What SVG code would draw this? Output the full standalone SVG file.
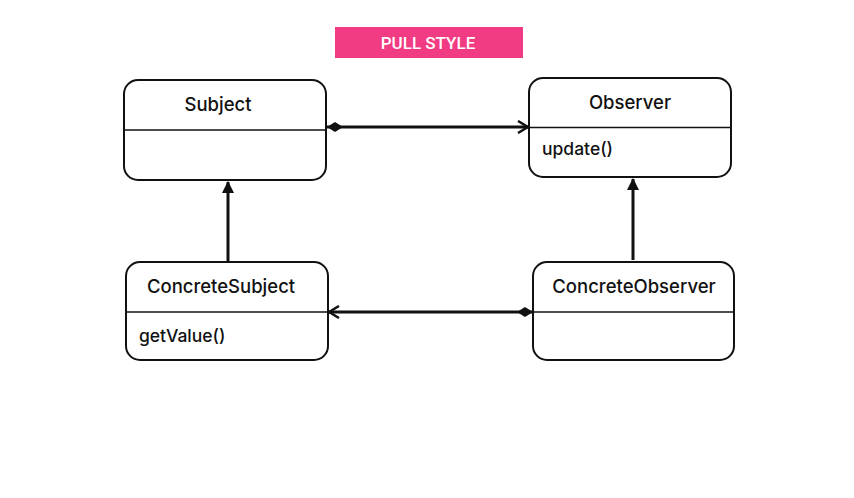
<svg xmlns="http://www.w3.org/2000/svg" width="854" height="498" viewBox="0 0 854 498">
<defs>
<style>
.box{fill:#fff;stroke:#111;stroke-width:2}
.div{stroke:#111;stroke-width:1.5}
.title{font-family:Inter,"Noto Sans",sans-serif;font-size:18.5px;font-weight:500;fill:#111;text-anchor:middle}
.op{font-family:Inter,"Noto Sans",sans-serif;font-size:17.5px;font-weight:500;fill:#111}
.edge{stroke:#111;stroke-width:3;fill:none}
.banner{font-family:Roboto,"Liberation Sans",sans-serif;font-size:17px;font-weight:500;fill:#fff;text-anchor:middle}
</style>
<marker id="open" viewBox="0 0 12 14" refX="11" refY="7" markerWidth="12" markerHeight="14" markerUnits="userSpaceOnUse" orient="auto">
<path d="M1,1 L11,7 L1,13" fill="none" stroke="#111" stroke-width="2.5"/>
</marker>
<marker id="tri" viewBox="0 0 12 12" refX="11" refY="6" markerWidth="12" markerHeight="12" markerUnits="userSpaceOnUse" orient="auto">
<path d="M0,0 L12,6 L0,12 Z" fill="#111"/>
</marker>
<marker id="dia" viewBox="0 0 16 10" refX="0" refY="5" markerWidth="16" markerHeight="10" markerUnits="userSpaceOnUse" orient="auto">
<path d="M0,5 L8,0 L16,5 L8,10 Z" fill="#111"/>
</marker>
</defs>
<rect width="854" height="498" fill="#fff"/>
<g id="banner">
<rect x="335" y="27" width="188" height="31" fill="#F13B82"/>
<text class="banner" x="428" y="49">PULL STYLE</text>
</g>
<g id="connectors">
<line class="edge" x1="327" y1="127" x2="528" y2="127" marker-start="url(#dia)" marker-end="url(#open)"/>
<line class="edge" x1="228" y1="261" x2="228" y2="182" marker-end="url(#tri)"/>
<line class="edge" x1="633" y1="260" x2="633" y2="179" marker-end="url(#tri)"/>
<line class="edge" x1="533" y1="312" x2="329" y2="312" marker-start="url(#dia)" marker-end="url(#open)"/>
</g>
<g id="subject">
<rect class="box" x="124" y="80" width="202" height="100" rx="14"/>
<line class="div" x1="124" y1="130" x2="326" y2="130"/>
<text class="title" x="218" y="111">Subject</text>
</g>
<g id="observer">
<rect class="box" x="529" y="78" width="202" height="99" rx="14"/>
<line class="div" x1="529" y1="127.5" x2="731" y2="127.5"/>
<text class="title" x="630" y="109">Observer</text>
<text class="op" x="542" y="155">update()</text>
</g>
<g id="concreteSubject">
<rect class="box" x="126" y="262" width="202" height="98" rx="14"/>
<line class="div" x1="126" y1="312" x2="328" y2="312"/>
<text class="title" x="221" y="293">ConcreteSubject</text>
<text class="op" x="139" y="342">getValue()</text>
</g>
<g id="concreteObserver">
<rect class="box" x="533" y="262" width="201" height="98" rx="14"/>
<line class="div" x1="533" y1="312" x2="734" y2="312"/>
<text class="title" x="634" y="293">ConcreteObserver</text>
</g>
</svg>
